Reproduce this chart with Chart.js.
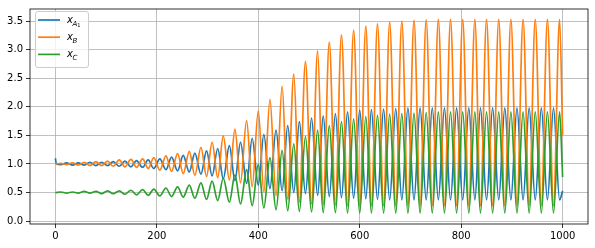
<!DOCTYPE html>
<html>
<head>
<meta charset="utf-8">
<script src="https://cdn.jsdelivr.net/npm/chart.js@4/dist/chart.umd.min.js"></script>
<style>
  html, body { margin: 0; padding: 0; background: #fff; }
  #c { display: block; }
</style>
</head>
<body>
<canvas id="c" width="595" height="248"></canvas>
<script>
// data: extrema of each curve
// orange (x_B) peaks happen at peakX, its troughs at troughX
const peakX = [11, 34, 57, 80, 103, 126, 149, 172,
  194, 218, 241, 264, 287, 309, 331, 354,
  377, 400, 423, 447, 470, 493, 517, 540,
  564, 588, 612, 635, 659, 683, 707, 731,
  755, 779, 803, 827, 850, 874, 898, 922, 946, 970, 994];
const troughX = [22, 45, 68, 91, 114, 137, 160, 183,
  206, 229, 252, 275, 298, 320, 343, 365,
  388, 411, 435, 458, 481, 505, 528, 552,
  576, 600, 623, 647, 671, 695, 719, 743,
  767, 791, 815, 838, 862, 886, 910, 934, 958, 982];
const endX = 1000;

// x_B
const bStart = 1.00;
const bHi = [1.01, 1.02, 1.03, 1.04, 1.05, 1.07, 1.08, 1.09,
  1.11, 1.14, 1.18, 1.22, 1.29, 1.38, 1.49, 1.61,
  1.76, 1.93, 2.13, 2.36, 2.57, 2.79, 2.98, 3.13,
  3.26, 3.34, 3.41, 3.45, 3.48, 3.50, 3.51, 3.52,
  3.53, 3.53, 3.53, 3.53, 3.53, 3.53, 3.53, 3.53, 3.53, 3.53, 3.53];
const bLo = [0.99, 0.98, 0.97, 0.97, 0.96, 0.95, 0.94, 0.92,
  0.89, 0.87, 0.83, 0.80, 0.78, 0.76, 0.72, 0.67,
  0.60, 0.51, 0.44, 0.38, 0.33, 0.30, 0.29, 0.28,
  0.27, 0.27, 0.27, 0.27, 0.27, 0.27, 0.27, 0.27,
  0.27, 0.27, 0.27, 0.27, 0.27, 0.27, 0.27, 0.27, 0.27, 0.27];
const bEnd = 1.50;

// x_A1 (low at peakX, high at troughX)
const aStartX = [0, 2];
const aStartY = [1.10, 1.00];
const aLo = [0.99, 0.98, 0.98, 0.97, 0.97, 0.96, 0.95, 0.94,
  0.92, 0.90, 0.88, 0.86, 0.82, 0.79, 0.74, 0.71,
  0.66, 0.63, 0.57, 0.53, 0.50, 0.48, 0.45, 0.43,
  0.41, 0.40, 0.39, 0.38, 0.37, 0.37, 0.37, 0.37,
  0.37, 0.37, 0.37, 0.37, 0.37, 0.37, 0.37, 0.37, 0.37, 0.37, 0.37];
const aHi = [1.02, 1.02, 1.03, 1.03, 1.04, 1.05, 1.06, 1.07,
  1.09, 1.12, 1.15, 1.19, 1.23, 1.27, 1.32, 1.38,
  1.45, 1.52, 1.59, 1.67, 1.74, 1.80, 1.84, 1.88,
  1.91, 1.94, 1.95, 1.96, 1.97, 1.98, 1.98, 1.98,
  1.98, 1.98, 1.98, 1.98, 1.98, 1.98, 1.98, 1.98, 1.98, 1.98];
const aEnd = 0.53;

// x_C
const cStart = 0.50;
const cHi = [0.51, 0.51, 0.52, 0.52, 0.53, 0.53, 0.54, 0.55,
  0.56, 0.58, 0.60, 0.63, 0.67, 0.70, 0.75, 0.81,
  0.90, 0.99, 1.11, 1.24, 1.35, 1.48, 1.59, 1.67,
  1.74, 1.79, 1.83, 1.85, 1.87, 1.88, 1.89, 1.90,
  1.91, 1.91, 1.91, 1.91, 1.91, 1.91, 1.91, 1.91, 1.91, 1.91, 1.91];
const cLo = [0.49, 0.49, 0.49, 0.48, 0.48, 0.47, 0.46, 0.45,
  0.44, 0.43, 0.42, 0.40, 0.38, 0.36, 0.33, 0.30,
  0.27, 0.23, 0.20, 0.18, 0.17, 0.16, 0.15, 0.15,
  0.14, 0.14, 0.14, 0.14, 0.14, 0.14, 0.14, 0.14,
  0.14, 0.14, 0.14, 0.14, 0.14, 0.14, 0.14, 0.14, 0.14, 0.14];
const cEnd = 0.77;

const xTicks = [0, 200, 400, 600, 800, 1000];
const yTicks = [0.0, 0.5, 1.0, 1.5, 2.0, 2.5, 3.0, 3.5];

const legendItems = [
  { base: 'x', sub: 'A', subsub: '1', color: '#1f77b4' },
  { base: 'x', sub: 'B', subsub: '', color: '#ff7f0e' },
  { base: 'x', sub: 'C', subsub: '', color: '#2ca02c' }
];

// helpers
function build(startX, startY, atPeak, atTrough, endY){
  const pts = startX.map((x, i) => ({ x, y: startY[i] }));
  peakX.forEach((x, i) => {
    pts.push({ x, y: atPeak[i] });
    if (i < troughX.length) pts.push({ x: troughX[i], y: atTrough[i] });
  });
  pts.push({ x: endX, y: endY });
  return pts;
}

const FONT = { family: 'DejaVu Sans', size: 10 };

// frame + legend drawn on top like matplotlib
const framePlugin = {
  id: 'frame',
  afterDraw(chart){
    const { ctx, chartArea: a } = chart;
    ctx.save();
    ctx.strokeStyle = '#000';
    ctx.lineWidth = 0.8;
    ctx.strokeRect(a.left, a.top, a.right - a.left, a.bottom - a.top);

    // legend box
    const bx = 35.5, by = 11.5, bw = 53, bh = 56;
    ctx.beginPath();
    ctx.roundRect(bx, by, bw, bh, 2.5);
    ctx.fillStyle = 'rgba(255,255,255,0.8)';
    ctx.fill();
    ctx.strokeStyle = '#cccccc';
    ctx.lineWidth = 1;
    ctx.stroke();

    legendItems.forEach((it, i) => {
      const y = 20 + i * 17.2;
      ctx.beginPath();
      ctx.moveTo(38, y); ctx.lineTo(60, y);
      ctx.strokeStyle = it.color;
      ctx.lineWidth = 1.7;
      ctx.stroke();

      ctx.fillStyle = '#000';
      ctx.textBaseline = 'alphabetic';
      let tx = 67, base = y + 3;
      ctx.font = 'italic 10px "DejaVu Sans"';
      ctx.fillText(it.base, tx, base);
      tx += ctx.measureText(it.base).width - 0.5;
      ctx.font = 'italic 7px "DejaVu Sans"';
      ctx.fillText(it.sub, tx, base + 2.5);
      tx += ctx.measureText(it.sub).width;
      if (it.subsub){
        ctx.font = '5px "DejaVu Sans"';
        ctx.fillText(it.subsub, tx, base + 4);
      }
    });
    ctx.restore();
  }
};

function buildChart(){
  const ctx = document.getElementById('c').getContext('2d');
  const line = (label, data, color, order) => ({
    label, data, borderColor: color, borderWidth: 1.7, pointRadius: 0,
    cubicInterpolationMode: 'monotone', fill: false, order
  });
  new Chart(ctx, {
    type: 'line',
    data: { datasets: [
      line('x_A1', build(aStartX, aStartY, aLo, aHi, aEnd), '#1f77b4', 2),
      line('x_B', build([0], [bStart], bHi, bLo, bEnd), '#ff7f0e', 1),
      line('x_C', build([0], [cStart], cHi, cLo, cEnd), '#2ca02c', 0)
    ]},
    options: {
      responsive: false, animation: false, devicePixelRatio: 1,
      layout: { padding: { top: 6, right: 7, left: 0, bottom: 0 } },
      plugins: { legend: { display: false }, tooltip: { enabled: false } },
      scales: {
        x: {
          type: 'linear', min: -50, max: 1050,
          afterBuildTicks: s => { s.ticks = xTicks.map(v => ({ value: v })); },
          afterFit: s => { s.height = 24; },
          ticks: { callback: v => String(v), font: FONT, color: '#000', padding: 2, maxRotation: 0, autoSkip: false },
          grid: { color: '#b0b0b0', lineWidth: 0.8, tickColor: '#000', tickLength: 4, tickWidth: 0.8 },
          border: { display: false }
        },
        y: {
          type: 'linear', min: -0.05, max: 3.71,
          afterBuildTicks: s => { s.ticks = yTicks.map(v => ({ value: v })); },
          afterFit: s => { s.width = 30; },
          ticks: { callback: v => Number(v).toFixed(1), font: FONT, color: '#000', padding: 3, autoSkip: false },
          grid: { color: '#b0b0b0', lineWidth: 0.8, tickColor: '#000', tickLength: 4, tickWidth: 0.8 },
          border: { display: false }
        }
      }
    },
    plugins: [framePlugin]
  });
}

buildChart();
</script>
</body>
</html>
